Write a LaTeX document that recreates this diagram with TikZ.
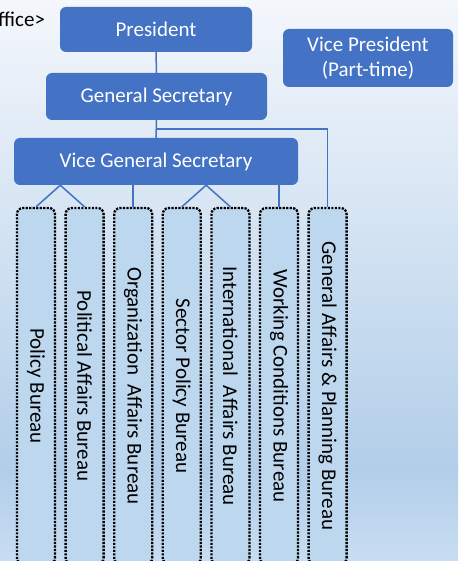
\documentclass[tikz,border=0pt]{standalone}
\usepackage{fontspec}
\setmainfont{Carlito}
\usetikzlibrary{calc}

\definecolor{postblue}{HTML}{4472C4}
\definecolor{bureaufill}{HTML}{BDD7EE}
\definecolor{bgtop}{HTML}{F4F7FC}
\definecolor{bgmid}{HTML}{B2CEE9}
\definecolor{bgbottom}{HTML}{C8DDF2}

\tikzset{
	orgfont/.style={font=\fontsize{21}{25}\selectfont},
	post/.style={orgfont, fill=postblue, text=white, rounded corners=6pt, inner sep=0pt, align=center},
	bureau/.style={orgfont, fill=bureaufill, draw=black, line width=2.3pt, dash pattern=on 2.2pt off 1.3pt,
		rounded corners=6pt, rotate=-90, minimum width=356pt, minimum height=38pt, inner sep=0pt},
	link/.style={draw=postblue, line width=1.5pt}
}

\begin{document}
\begin{tikzpicture}[x=1pt, y=-1pt]

	\useasboundingbox (0,0) rectangle (458,561);
	\clip (0,0) rectangle (458,561);
	\shade[top color=bgtop, bottom color=bgmid] (0,0) rectangle (458,471);
	\shade[top color=bgmid, bottom color=bgbottom] (0,470) rectangle (458,561);

	\node[orgfont, anchor=base west, inner sep=0pt] (office) at (-2,27) {ffice>};
	\node[post, minimum width=192pt, minimum height=45pt] (president) at (156,29.5) {President};
	\node[post, minimum width=170pt, minimum height=58pt] (vicepres) at (368,58) {Vice President\\(Part-time)};
	\node[post, minimum width=221pt, minimum height=47pt] (gensec) at (156.5,96.5) {General Secretary};
	\node[post, minimum width=284pt, minimum height=47pt] (vicegen) at (156,161.5) {Vice General Secretary};

	\foreach \i/\name in {1/Policy Bureau, 2/Political Affairs Bureau, 3/Organization\ \ Affairs Bureau,
		4/Sector Policy Bureau, 5/International\ \ Affairs Bureau, 6/Working Conditions Bureau,
		7/General Affairs \& Planning Bureau}
		\node[bureau] (b\i) at ({36+48.6*(\i-1)},386) {\name};

	\draw[link] (president) -- (gensec);
	\draw[link] (gensec) -- (vicegen);
	\draw[link] (gensec.south) -- ++(0,9) -| (b7.west);
	\coordinate (v12) at ($(b1.west)!.5!(b2.west)$);
	\coordinate (v45) at ($(b4.west)!.5!(b5.west)$);
	\draw[link] (b1.west) -- (v12 |- vicegen.south) -- (b2.west);
	\draw[link] (b4.west) -- (v45 |- vicegen.south) -- (b5.west);
	\draw[link] (b3.west) -- (b3.west |- vicegen.south);
	\draw[link] (b6.west) -- (b6.west |- vicegen.south);

\end{tikzpicture}
\end{document}
